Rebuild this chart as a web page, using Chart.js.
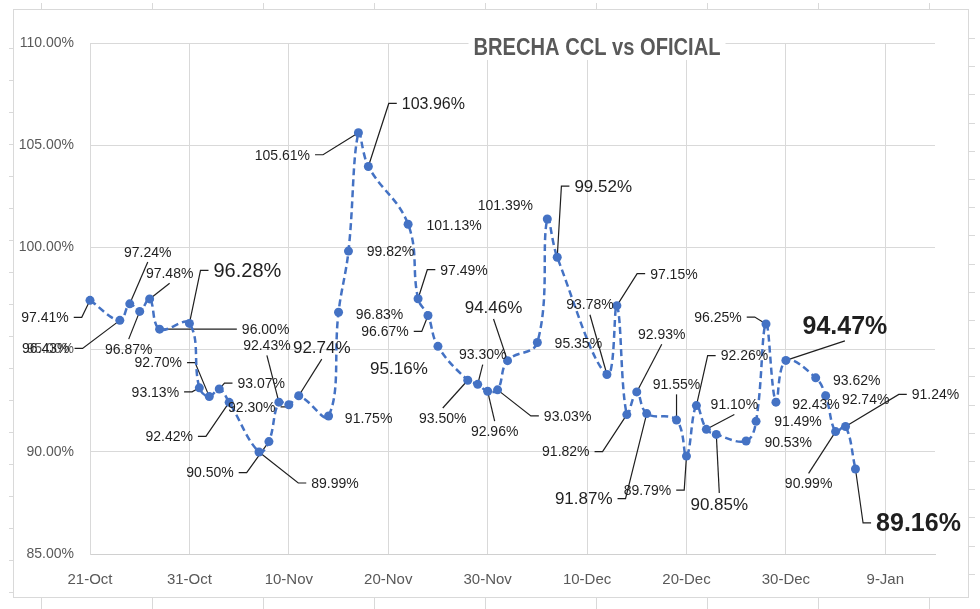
<!DOCTYPE html>
<html>
<head>
<meta charset="utf-8">
<title>Brecha CCL vs Oficial</title>
<script src="https://cdn.jsdelivr.net/npm/chart.js@4.4.1/dist/chart.umd.min.js"></script>
<style>
  html, body { margin: 0; padding: 0; background: #fff; }
  #wrap { width: 980px; height: 609px; }
</style>
</head>
<body>
<div id="wrap"><canvas id="brechaChart" width="980" height="609"></canvas></div>
<script>
// brecha.js
// Brecha CCL vs dolar oficial (ruedas habiles)

/* ======================================================
   DATA
====================================================== */

const fechas = [
  "2022-10-21", "2022-10-24", "2022-10-25", "2022-10-26", "2022-10-27", "2022-10-28",
  "2022-10-31", "2022-11-01", "2022-11-02", "2022-11-03", "2022-11-04",
  "2022-11-07", "2022-11-08", "2022-11-09", "2022-11-10", "2022-11-11",
  "2022-11-14", "2022-11-15", "2022-11-16", "2022-11-17", "2022-11-18",
  "2022-11-22", "2022-11-23", "2022-11-24", "2022-11-25",
  "2022-11-28", "2022-11-29", "2022-11-30", "2022-12-01", "2022-12-02",
  "2022-12-05", "2022-12-06", "2022-12-07",
  "2022-12-12", "2022-12-13", "2022-12-14", "2022-12-15", "2022-12-16",
  "2022-12-19", "2022-12-20", "2022-12-21", "2022-12-22", "2022-12-23",
  "2022-12-26", "2022-12-27", "2022-12-28", "2022-12-29", "2022-12-30",
  "2023-01-02", "2023-01-03", "2023-01-04", "2023-01-05", "2023-01-06"
];

const brecha = [
  97.41, 96.43, 97.24, 96.87, 97.48, 96.00,
  96.28, 93.13, 92.70, 93.07, 92.42,
  89.99, 90.50, 92.43, 92.30, 92.74,
  91.75, 96.83, 99.82, 105.61, 103.96,
  101.13, 97.49, 96.67, 95.16,
  93.50, 93.30, 92.96, 93.03, 94.46,
  95.35, 101.39, 99.52,
  93.78, 97.15, 91.82, 92.93, 91.87,
  91.55, 89.79, 92.26, 91.10, 90.85,
  90.53, 91.49, 96.25, 92.43, 94.47,
  93.62, 92.74, 90.99, 91.24, 89.16
];

const xTickLabels = ["21-Oct", "31-Oct", "10-Nov", "20-Nov", "30-Nov", "10-Dec", "20-Dec", "30-Dec", "9-Jan"];
const yTickLabels = ["85.00%", "90.00%", "95.00%", "100.00%", "105.00%", "110.00%"];

const TITULO = "BRECHA CCL vs OFICIAL";

/* ======================================================
   LAYOUT DE ETIQUETAS (offset px desde el punto, lado del conector, tamaño, negrita)
====================================================== */

const etiquetas = [
  [-45, 17, "R", 14], [-74, 28, "R", 14], [18, -52, "B", 14], [-11, 38, "T", 14], [20, -26, "B", 14], [106, 0, "L", 14],
  [58, -53, "L", 20], [-44, 4, "R", 14], [-51, -34, "R", 14], [42, -6, "L", 14], [-60, 34, "R", 14],
  [76, 31, "L", 14], [-59, 31, "R", 14], [-12, -57, "B", 14], [-37, 2, "R", 14], [23, -48, "B", 17],
  [40, 2, null, 14], [41, 2, null, 14], [42, 0, null, 14], [-76, 22, "R", 14], [65, -63, "L", 16],
  [46, 1, null, 14], [46, -29, "L", 14], [-43, 16, "R", 14], [-39, 22, null, 17],
  [-25, 38, "T", 14], [5, -30, "B", 14], [7, 40, "T", 14], [70, 26, "L", 14], [-14, -53, "B", 17],
  [41, 1, null, 14], [-42, -14, null, 14], [46, -71, "L", 17],
  [-17, -70, "B", 14], [57, -32, "L", 14], [-61, 37, "R", 14], [25, -58, "B", 14], [-63, 85, "R", 17],
  [0, -36, "B", 14], [-39, 34, "R", 14], [48, -50, "L", 14], [28, -25, "B", 14], [3, 70, "T", 17],
  [42, 1, null, 14], [42, 0, null, 14], [-48, -7, "R", 14], [40, 2, null, 14], [59, -34, "B", 25, true],
  [41, 2, null, 14], [40, 3, null, 14], [-27, 52, "T", 14], [90, -32, "L", 14], [63, 54, "L", 25, true]
];

/* ======================================================
   HELPERS
====================================================== */

const FONT = "'Liberation Sans', Arial, sans-serif";
const BASE = Date.UTC(2022, 9, 21);

function diaDesdeInicio(iso) {
  const [y, m, d] = iso.split("-").map(Number);
  return Math.round((Date.UTC(y, m - 1, d) - BASE) / 86400000);
}

/* ======================================================
   PLUGINS
====================================================== */

const marcoPlugin = {
  id: "marco",
  beforeDraw(chart) {
    const ctx = chart.ctx;
    ctx.save();
    ctx.fillStyle = "#fff";
    ctx.fillRect(0, 0, chart.width, chart.height);
    ctx.strokeStyle = "#d9d9d9";
    ctx.lineWidth = 1;
    ctx.strokeRect(13.5, 9.5, 955, 588);
    ctx.beginPath();
    for (let y = 48; y < 597; y += 32) { ctx.moveTo(9, y + 0.5); ctx.lineTo(13, y + 0.5); }
    for (let y = 38; y < 597; y += 28.2) { ctx.moveTo(969, Math.round(y) + 0.5); ctx.lineTo(975, Math.round(y) + 0.5); }
    for (let x = 40.5; x < 968; x += 111.1) {
      ctx.moveTo(Math.round(x) + 0.5, 597); ctx.lineTo(Math.round(x) + 0.5, 609);
      ctx.moveTo(Math.round(x) + 0.5, 3); ctx.lineTo(Math.round(x) + 0.5, 9);
    }
    ctx.stroke();
    ctx.restore();
  },
  afterDraw(chart) {
    // titulo condensado (tipo Calibri) sobre la grilla superior
    const ctx = chart.ctx;
    const cx = 597, cy = 48, anchoObjetivo = 247;
    ctx.save();
    ctx.font = "bold 24px " + FONT;
    const w = ctx.measureText(TITULO).width;
    const k = anchoObjetivo / w;
    ctx.fillStyle = "#fff";
    ctx.fillRect(cx - anchoObjetivo / 2 - 5, cy - 14, anchoObjetivo + 10, 26);
    ctx.translate(cx, cy);
    ctx.scale(k, 1);
    ctx.fillStyle = "#595959";
    ctx.textAlign = "center";
    ctx.textBaseline = "middle";
    ctx.fillText(TITULO, 0, 0);
    ctx.restore();
  }
};

function cajaEtiqueta(ctx, el, cfg, texto) {
  const [dx, dy, , size, bold] = cfg;
  ctx.font = (bold ? "bold " : "") + size + "px " + FONT;
  const w = ctx.measureText(texto).width;
  const h = size * 0.75;
  return { cx: el.x + dx, cy: el.y + dy, w, h };
}

const etiquetasPlugin = {
  id: "etiquetas",
  beforeDatasetsDraw(chart) {
    const ctx = chart.ctx;
    const meta = chart.getDatasetMeta(0);
    ctx.save();
    ctx.strokeStyle = "#1f1f1f";
    ctx.lineWidth = 1.2;
    meta.data.forEach((el, i) => {
      const cfg = etiquetas[i];
      const lado = cfg[2];
      if (!lado) return;
      const b = cajaEtiqueta(ctx, el, cfg, brecha[i].toFixed(2) + "%");
      ctx.beginPath();
      if (lado === "L") {
        const x0 = b.cx - b.w / 2 - 5;
        ctx.moveTo(x0, b.cy); ctx.lineTo(x0 - 8, b.cy);
      } else if (lado === "R") {
        const x0 = b.cx + b.w / 2 + 5;
        ctx.moveTo(x0, b.cy); ctx.lineTo(x0 + 8, b.cy);
      } else if (lado === "T") {
        ctx.moveTo(b.cx, b.cy - b.h / 2 - 5);
      } else {
        ctx.moveTo(b.cx, b.cy + b.h / 2 + 5);
      }
      ctx.lineTo(el.x, el.y);
      ctx.stroke();
    });
    ctx.restore();
  },
  afterDatasetsDraw(chart) {
    const ctx = chart.ctx;
    const meta = chart.getDatasetMeta(0);
    ctx.save();
    ctx.fillStyle = "#1f1f1f";
    ctx.textAlign = "center";
    ctx.textBaseline = "middle";
    meta.data.forEach((el, i) => {
      const texto = brecha[i].toFixed(2) + "%";
      const b = cajaEtiqueta(ctx, el, etiquetas[i], texto);
      ctx.fillText(texto, b.cx, b.cy + 1);
    });
    ctx.restore();
  }
};

/* ======================================================
   CHART
====================================================== */

Chart.defaults.font.family = FONT;

const ctxChart = document.getElementById("brechaChart");

new Chart(ctxChart, {
  type: "line",
  data: {
    datasets: [{
      label: "Brecha CCL vs Oficial",
      data: fechas.map((f, i) => ({ x: diaDesdeInicio(f), y: brecha[i] })),
      borderColor: "#4472C4",
      backgroundColor: "#4472C4",
      borderWidth: 2.5,
      borderDash: [7, 4],
      tension: 0.4,
      pointRadius: 4.5,
      pointBorderWidth: 0,
      pointBackgroundColor: "#4472C4",
      fill: false,
      clip: false
    }]
  },
  options: {
    responsive: false,
    animation: false,
    events: [],
    layout: { padding: { top: 43, right: 45, bottom: 0, left: 0 } },
    plugins: {
      legend: { display: false },
      tooltip: { enabled: false },
      title: { display: false }
    },
    scales: {
      x: {
        type: "linear",
        min: 0,
        max: 85,
        afterFit(scale) { scale.height = 55; },
        afterBuildTicks(scale) {
          scale.ticks = scale.ticks.filter(t => t.value % 10 === 0);
        },
        grid: { color: "#d9d9d9", drawTicks: false },
        border: { color: "#d0d0d0" },
        ticks: {
          stepSize: 10,
          includeBounds: false,
          autoSkip: false,
          maxRotation: 0,
          padding: 17,
          color: "#595959",
          font: { size: 15 },
          callback: v => xTickLabels[Math.round(v / 10)] ?? ""
        }
      },
      y: {
        min: 85,
        max: 110,
        afterFit(scale) { scale.width = 90; },
        grid: { color: "#d9d9d9", drawTicks: false },
        border: { color: "#d9d9d9" },
        ticks: {
          stepSize: 5,
          padding: 16,
          color: "#595959",
          font: { size: 14 },
          callback: v => yTickLabels[Math.round((v - 85) / 5)] ?? ""
        }
      }
    }
  },
  plugins: [marcoPlugin, etiquetasPlugin]
});
</script>
</body>
</html>
